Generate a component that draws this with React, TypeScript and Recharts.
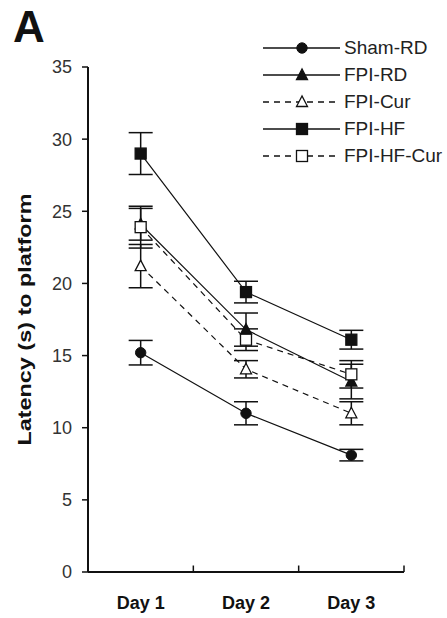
import {
  ErrorBar,
  Line,
  LineChart,
  ReferenceLine,
  XAxis,
  YAxis,
} from "recharts";

const days = ["Day 1", "Day 2", "Day 3"];
const yTicks = [0, 5, 10, 15, 20, 25, 30, 35];

const shamRD = [15.2, 11.0, 8.1];
const shamRDErr = [0.85, 0.8, 0.4];
const fpiRD = [24.1, 16.8, 13.2];
const fpiRDErr = [1.1, 1.15, 1.2];
const fpiCur = [21.2, 14.05, 11.0];
const fpiCurErr = [1.5, 0.6, 0.8];
const fpiHF = [29.0, 19.4, 16.1];
const fpiHFErr = [1.45, 0.75, 0.65];
const fpiHFCur = [23.9, 16.1, 13.7];
const fpiHFCurErr = [1.45, 0.75, 0.95];

const data = days.map((d, i) => ({
  x: i + 1,
  day: d,
  shamRD: shamRD[i],
  shamRDErr: shamRDErr[i],
  fpiRD: fpiRD[i],
  fpiRDErr: fpiRDErr[i],
  fpiCur: fpiCur[i],
  fpiCurErr: fpiCurErr[i],
  fpiHF: fpiHF[i],
  fpiHFErr: fpiHFErr[i],
  fpiHFCur: fpiHFCur[i],
  fpiHFCurErr: fpiHFCurErr[i],
}));

const INK = "#111";
const FONT = '"Liberation Sans", Arial, sans-serif';

type Shape = "circle" | "triangle" | "openTriangle" | "square" | "openSquare";

function marker(shape: Shape, cx: number, cy: number, key?: string | number) {
  switch (shape) {
    case "circle":
      return <circle key={key} cx={cx} cy={cy} r={5.2} fill={INK} stroke={INK} />;
    case "triangle":
    case "openTriangle":
      return (
        <polygon
          key={key}
          points={`${cx},${cy - 6} ${cx - 5.5},${cy + 4.5} ${cx + 5.5},${cy + 4.5}`}
          fill={shape === "triangle" ? INK : "#fff"}
          stroke={INK}
          strokeWidth={1.3}
        />
      );
    default:
      return (
        <rect
          key={key}
          x={cx - 5.5}
          y={cy - 5.5}
          width={11}
          height={11}
          fill={shape === "square" ? INK : "#fff"}
          stroke={INK}
          strokeWidth={1.3}
        />
      );
  }
}

const series: { key: string; name: string; shape: Shape; dashed: boolean }[] = [
  { key: "shamRD", name: "Sham-RD", shape: "circle", dashed: false },
  { key: "fpiRD", name: "FPI-RD", shape: "triangle", dashed: false },
  { key: "fpiCur", name: "FPI-Cur", shape: "openTriangle", dashed: true },
  { key: "fpiHF", name: "FPI-HF", shape: "square", dashed: false },
  { key: "fpiHFCur", name: "FPI-HF-Cur", shape: "openSquare", dashed: true },
];

function LegendBox() {
  return (
    <div
      style={{
        position: "absolute",
        left: 262,
        top: 34,
        fontFamily: FONT,
        fontSize: 19,
        color: "#222",
      }}
    >
      {series.map((s) => (
        <div
          key={s.key}
          style={{ display: "flex", alignItems: "center", height: 27 }}
        >
          <svg width={79} height={20}>
            <line
              x1={1}
              x2={78}
              y1={10}
              y2={10}
              stroke={INK}
              strokeWidth={1.3}
              strokeDasharray={s.dashed ? "6 5" : undefined}
            />
            {marker(s.shape, 40, 10)}
          </svg>
          <span style={{ marginLeft: 3 }}>{s.name}</span>
        </div>
      ))}
    </div>
  );
}

function YLabel(props: { viewBox?: { x: number; y: number; width: number; height: number } }) {
  const vb = props.viewBox ?? { x: 0, y: 67, width: 88, height: 505 };
  const cx = 25;
  const cy = vb.y + vb.height / 2;
  return (
    <text
      x={cx}
      y={cy}
      transform={`rotate(-90 ${cx} ${cy})`}
      textAnchor="middle"
      dominantBaseline="central"
      fontWeight="bold"
      fontSize={18}
      fill="#111"
      textLength={252}
      lengthAdjust="spacingAndGlyphs"
    >
      Latency (s) to platform
    </text>
  );
}

export default function App() {
  return (
    <div
      style={{
        position: "absolute",
        left: 0,
        top: 0,
        width: 447,
        height: 618,
        background: "#fff",
      }}
    >
      <div
        style={{
          position: "absolute",
          left: 13,
          top: 2,
          fontFamily: FONT,
          fontWeight: "bold",
          fontSize: 44,
          color: "#111",
        }}
      >
        A
      </div>
      <LineChart
        width={447}
        height={618}
        data={data}
        margin={{ top: 67, right: 43, left: 0, bottom: 0 }}
        style={{ fontFamily: FONT }}
      >
        <XAxis
          dataKey="x"
          type="number"
          domain={[0.5, 3.5]}
          ticks={[1, 2, 3]}
          tickFormatter={(v: number) => days[v - 1]}
          height={46}
          tickLine={false}
          tickSize={0}
          tickMargin={24}
          axisLine={{ stroke: INK, strokeWidth: 2 }}
          tick={{
            fill: "#111",
            fontSize: 18,
            fontWeight: "bold",
          }}
        />
        <YAxis
          type="number"
          domain={[0, 35]}
          ticks={yTicks}
          width={88}
          tickSize={6}
          tickMargin={10}
          axisLine={{ stroke: INK, strokeWidth: 2 }}
          tickLine={{ stroke: INK, strokeWidth: 1.5 }}
          tick={{ fill: "#333", fontSize: 18 }}
          label={<YLabel />}
        />
        {[1.5, 2.5, 3.5].map((b) => (
          <ReferenceLine
            key={b}
            segment={[
              { x: b, y: 0 },
              { x: b, y: 0.45 },
            ]}
            stroke={INK}
            strokeWidth={1.5}
          />
        ))}
        {series.map((s) => (
          <Line
            key={s.key}
            dataKey={s.key}
            name={s.name}
            stroke={INK}
            strokeWidth={1.2}
            strokeDasharray={s.dashed ? "6 5" : undefined}
            isAnimationActive={false}
            dot={(p: { cx: number; cy: number; index: number }) =>
              marker(s.shape, p.cx, p.cy, `${s.key}-${p.index}`)
            }
            activeDot={false}
          >
            <ErrorBar
              dataKey={`${s.key}Err`}
              width={12}
              stroke={INK}
              strokeWidth={1.5}
              direction="y"
            />
          </Line>
        ))}
      </LineChart>
      <LegendBox />
    </div>
  );
}
